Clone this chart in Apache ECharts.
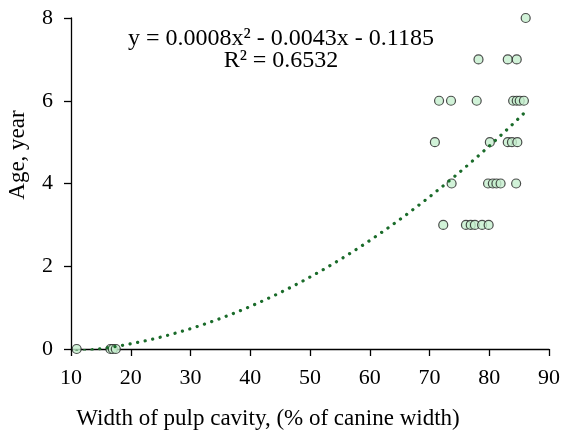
<!DOCTYPE html>
<html>
<head>
<meta charset="utf-8">
<script src="https://cdn.jsdelivr.net/npm/echarts@6/dist/echarts.min.js"></script>
<style>
html,body{margin:0;padding:0;background:#fff;}
#chart{width:563px;height:432px;}
</style>
</head>
<body>
<div id="chart"></div>
<script>
// Width of pulp cavity (% of canine width) grouped by age (years)
const ages = [0, 3, 4, 5, 6, 7, 8];
const widthAge0 = [10.95, 16.6, 17.0, 17.5];
const widthAge3 = [72.3, 76.1, 76.9, 77.6, 78.8, 79.9];
const widthAge4 = [73.7, 79.8, 80.6, 81.2, 81.9, 84.5];
const widthAge5 = [70.9, 80.1, 83.1, 83.8, 84.7];
const widthAge6 = [71.6, 73.6, 77.9, 84.0, 84.6, 85.1, 85.8];
const widthAge7 = [78.2, 83.1, 84.6];
const widthAge8 = [86.1];
const xTicks = [10, 20, 30, 40, 50, 60, 70, 80, 90];
const yTicks = [0, 2, 4, 6, 8];
const equationText = 'y = 0.0008x\u00B2 - 0.0043x - 0.1185';
const r2Text = 'R\u00B2 = 0.6532';

const groups = [widthAge0, widthAge3, widthAge4, widthAge5, widthAge6, widthAge7, widthAge8];
const points = [];
groups.forEach((g, i) => g.forEach(w => points.push([w, ages[i]])));

// Least-squares quadratic trendline fitted to the points (as the original chart's trendline)
function fitQuadratic(pts) {
  let s = [0,0,0,0,0], t = [0,0,0];
  pts.forEach(([x, y]) => {
    let p = 1;
    for (let k = 0; k < 5; k++) { s[k] += p; if (k < 3) t[k] += p * y; p *= x; }
  });
  const A = [[s[0], s[1], s[2], t[0]], [s[1], s[2], s[3], t[1]], [s[2], s[3], s[4], t[2]]];
  for (let i = 0; i < 3; i++) {
    let m = i;
    for (let r = i + 1; r < 3; r++) if (Math.abs(A[r][i]) > Math.abs(A[m][i])) m = r;
    [A[i], A[m]] = [A[m], A[i]];
    for (let r = 0; r < 3; r++) {
      if (r === i) continue;
      const f = A[r][i] / A[i][i];
      for (let c = i; c < 4; c++) A[r][c] -= f * A[i][c];
    }
  }
  return [A[0][3] / A[0][0], A[1][3] / A[1][1], A[2][3] / A[2][2]];
}
const coef = fitQuadratic(points);
const xs = points.map(p => p[0]);
const xMin = Math.min(...xs), xMax = Math.max(...xs);
const trend = [];
const N = 150;
for (let i = 0; i <= N; i++) {
  const x = xMin + (xMax - xMin) * i / N;
  trend.push([x, coef[0] + coef[1] * x + coef[2] * x * x]);
}

const FONT = "'Liberation Serif', 'Times New Roman', serif";
const chart = echarts.init(document.getElementById('chart'), null, {renderer: 'canvas'});
chart.setOption({
  animation: false,
  backgroundColor: '#fff',
  textStyle: {fontFamily: FONT},
  grid: {left: 71, right: 13, top: 18, bottom: 83, containLabel: false},
  xAxis: {
    type: 'value', min: xTicks[0], max: xTicks[xTicks.length - 1], interval: 10,
    axisLine: {show: true, onZero: false, lineStyle: {color: '#000', width: 1.3}},
    axisTick: {show: true, length: 7, lineStyle: {color: '#000', width: 1.3}},
    axisLabel: {margin: 18, fontSize: 22, color: '#000', fontFamily: FONT},
    splitLine: {show: false}
  },
  yAxis: {
    type: 'value', min: yTicks[0], max: yTicks[yTicks.length - 1], interval: 2,
    axisLine: {show: true, lineStyle: {color: '#000', width: 1.3}},
    axisTick: {show: true, length: 7, lineStyle: {color: '#000', width: 1.3}},
    axisLabel: {margin: 18, fontSize: 22, color: '#000', fontFamily: FONT},
    splitLine: {show: false}
  },
  series: [
    {
      type: 'scatter', data: points, symbol: 'circle', symbolSize: 9, z: 2,
      itemStyle: {color: '#c6efce', borderColor: '#222', borderWidth: 1.2}
    },
    {
      type: 'line', data: trend, showSymbol: false, smooth: false, z: 3, clip: true,
      lineStyle: {color: '#1a6b2a', width: 3.2, type: [0.1, 7.6], cap: 'round'}
    }
  ],
  graphic: [
    {type: 'text', style: {text: equationText, fontSize: 24, fontFamily: FONT, fill: '#000', textAlign: 'center', textVerticalAlign: 'middle'}, position: [281, 39]},
    {type: 'text', style: {text: r2Text, fontSize: 24, fontFamily: FONT, fill: '#000', textAlign: 'center', textVerticalAlign: 'middle'}, position: [281, 61]},
    {type: 'text', style: {text: 'Width of pulp cavity, (% of canine width)', fontSize: 23, fontFamily: FONT, fill: '#000', textAlign: 'center', textVerticalAlign: 'middle'}, position: [268, 419]},
    {type: 'text', rotation: Math.PI / 2, style: {text: 'Age, year', fontSize: 23, fontFamily: FONT, fill: '#000', textAlign: 'center', textVerticalAlign: 'middle'}, position: [18, 155]}
  ]
});
</script>
</body>
</html>
